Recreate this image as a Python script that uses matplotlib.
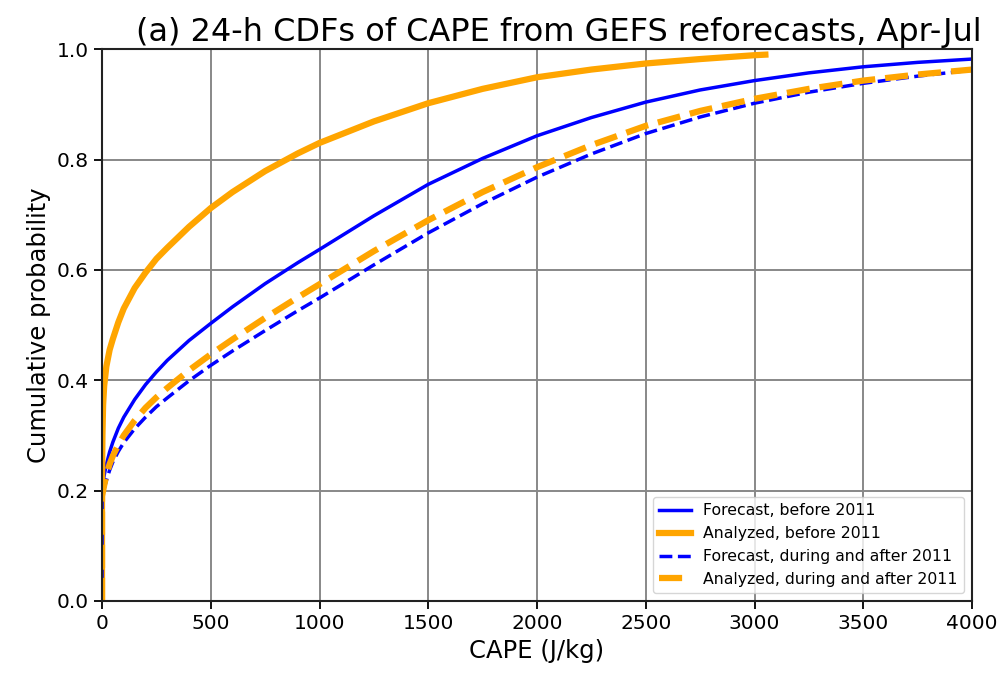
import numpy as np
import matplotlib
matplotlib.use("Agg")
import matplotlib.pyplot as plt

# CDF values
cape_fc_old = [0, 0, 5, 10, 20, 35, 50, 75, 100, 150, 200, 250, 300, 400, 500, 600, 750, 900, 1000,
               1250, 1500, 1750, 2000, 2250, 2500, 2750, 3000, 3250, 3500, 3750, 4000]
prob_fc_old = [0, 0.195, 0.215, 0.228, 0.247, 0.27, 0.288, 0.313, 0.333, 0.365, 0.392, 0.415, 0.436, 0.472,
               0.503, 0.533, 0.575, 0.613, 0.637, 0.698, 0.755, 0.802, 0.843, 0.876, 0.904, 0.926, 0.943,
               0.957, 0.968, 0.976, 0.982]

cape_an_old = [0, 0, 1, 2, 5, 10, 20, 35, 50, 75, 100, 150, 200, 250, 300, 400, 500, 600, 750, 900, 1000,
               1250, 1500, 1750, 2000, 2250, 2500, 2750, 3000, 3050]
prob_an_old = [0, 0.2, 0.26, 0.30, 0.355, 0.39, 0.425, 0.455, 0.475, 0.505, 0.53, 0.567, 0.595, 0.62, 0.64,
               0.678, 0.712, 0.741, 0.779, 0.811, 0.830, 0.869, 0.902, 0.928, 0.949, 0.963, 0.974, 0.982,
               0.989, 0.99]

cape_fc_new = [0, 0, 5, 10, 20, 35, 50, 75, 100, 150, 200, 250, 300, 400, 500, 600, 750, 900, 1000,
               1250, 1500, 1750, 2000, 2250, 2500, 2750, 3000, 3250, 3500, 3750, 4000]
prob_fc_new = [0, 0.19, 0.195, 0.204, 0.218, 0.237, 0.252, 0.271, 0.287, 0.312, 0.333, 0.352, 0.368, 0.399,
               0.427, 0.453, 0.49, 0.526, 0.549, 0.609, 0.667, 0.72, 0.768, 0.81, 0.847, 0.877, 0.902,
               0.922, 0.938, 0.951, 0.962]

cape_an_new = [0, 0, 5, 10, 20, 35, 50, 75, 100, 150, 200, 250, 300, 400, 500, 600, 750, 900, 1000,
               1250, 1500, 1750, 2000, 2250, 2500, 2750, 3000, 3250, 3500, 3750, 4000]
prob_an_new = [0, 0.19, 0.2, 0.21, 0.228, 0.248, 0.263, 0.283, 0.30, 0.327, 0.35, 0.369, 0.386, 0.418,
               0.447, 0.474, 0.513, 0.55, 0.574, 0.634, 0.69, 0.741, 0.786, 0.826, 0.861, 0.888, 0.91,
               0.928, 0.943, 0.954, 0.963]

fig = plt.figure(figsize=(10.06, 6.73), dpi=100)
ax = fig.add_axes([0.1014, 0.107, 0.8648, 0.820])

ax.plot(cape_fc_old, prob_fc_old, color='blue', lw=2.5, label='Forecast, before 2011')
ax.plot(cape_an_old, prob_an_old, color='orange', lw=4.5, label='Analyzed, before 2011')
ax.plot(cape_fc_new, prob_fc_new, color='blue', lw=2.5, ls='--', label='Forecast, during and after 2011')
ax.plot(cape_an_new, prob_an_new, color='orange', lw=4.5, ls='--', label='Analyzed, during and after 2011')

ax.set_xlim(0, 4000)
ax.set_ylim(0, 1)
ax.set_xticks(np.arange(0, 4001, 500))
ax.set_yticks(np.arange(0, 1.01, 0.2))
ax.grid(True, color='#888888', lw=1.4)
ax.tick_params(labelsize=14.5, length=6, width=1.3)
for s in ax.spines.values():
    s.set_linewidth(1.5)
    s.set_color('#222222')

ax.set_xlabel("CAPE (J/kg)", fontsize=17.5)
ax.set_ylabel("Cumulative probability", fontsize=17.5)
ax.set_title("(a) 24-h CDFs of CAPE from GEFS reforecasts, Apr-Jul", fontsize=23, x=0.525)
ax.legend(loc='lower right', fontsize=11.3)

plt.savefig("out.png", dpi=100)
